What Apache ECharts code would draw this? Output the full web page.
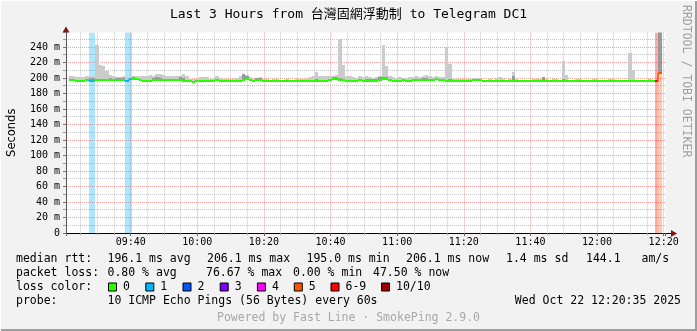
<!DOCTYPE html>
<html><head><meta charset="utf-8">
<script src="https://cdn.jsdelivr.net/npm/echarts@6/dist/echarts.min.js"></script>
<style>html,body{margin:0;padding:0;background:#f2f2f2}#c{width:697px;height:331px}</style>
</head><body><div id="c"></div><script>
// ---------- data ----------
const titleText = 'Last 3 Hours from 台灣固網浮動制 to Telegram DC1';
const windowStart = 20 + 35 / 60;   // 09:20:35 (minutes after 09:00)
const windowEnd = 200 + 35 / 60;    // 12:20:35
const firstSample = 21 + 23 / 60;   // 09:21:23, one sample per minute

// median RTT per sample (ms)
const median = [
  197.5,197,196.5,196.5,196.5,197,196.5,196.5,197.5,197.5,
  197.5,197.5,198,197.5,197.5,198,197.5,196,199,199,
  198.5,198,196.5,196,196,198,198,197.5,197.5,198,
  198,198,197.5,197.5,196.5,196,195.5,195,195.5,196.5,
  196.5,196,195.5,195.5,197.5,196.5,196,195.5,195.5,195.5,
  195.5,196,198,198.5,197,196.5,197,197.5,196.5,196,
  196,196,196,196,196,196,196,196,195.5,195.5,
  196,195.5,196,196,196,196.5,196,196.5,197,199,
  199.5,198,197.5,196.5,196.5,196,196.5,197,196.5,196.5,
  196,196.5,196.5,198,199,198.5,197,196.5,196,196.5,
  197,196,196.5,197.5,197.5,197,198,198,197.5,198,
  198.5,198,197,196.5,196.5,196,196,195.5,195.5,195.5,
  196,197,197.5,197,196,196,196,196,196,196,
  196,196,196,196,196,196,196,196,196,196,
  196,196,196,196,196,196,196,196,196,196,
  196,196,196,196,196,196,196,196,196,196,
  196,196,196,196,196,196,196,196,196,196,
  196,196,196,196,196,196,196,206.1
];
// lowest ping per sample (ms)
const smokeLo = [
  195.5,195.5,195,195,195,195.5,195,195,196,196,
  196,196,196.5,195.5,196,196.5,196,194.5,197.5,197.5,
  197,196.5,195,195,195,196.5,196.5,196,196,196.5,
  196.5,196.5,196,196,195,194.5,194.5,194,194.5,195.5,
  195.5,195,194.5,194.5,196,195.5,195,194.5,194.5,194.5,
  194.5,195,196.5,197,196,195.5,196,196.5,195.5,195,
  195,195,195,195,195,195,195,195,194.5,194.5,
  195,194.5,195,195,195,195.5,195,195.5,196,197.5,
  198,196.5,196.5,195.5,195.5,195,195.5,196,195.5,195.5,
  195,195.5,195.5,197,197.5,197,196,195.5,195,195.5,
  196,195,195.5,196.5,196.5,196,197,197,196.5,197,
  197.5,197,196,195.5,195.5,195,195,194.5,194.5,194.5,
  195,196,196.5,196,195,195,195,195,195,195,
  195,195,195,195,195,195,195,195,195,195,
  195,195,195,195,195,195,195,195,195,195,
  195,195,195,195,195,195,195,195,195,195,
  195,195,195,195,195,195,195,195,195,195,
  195,195,195,195,195,195,195,206.1
];
// top of the dense (dark) smoke per sample (ms)
const smokeMid = [
  199,199,198,197.5,197.5,198,200,200,198.5,199,
  199,198.5,200,198.5,199.5,199.5,199.5,197,200.5,201,
  200.5,199,197.5,197,197.5,199.5,201,200,198.5,199,
  199,199,198.5,201,199.5,198,196.5,196,196.5,197.5,
  197.5,197,196.5,196.5,198.5,197.5,197,196.5,196.5,196.5,
  196.5,197.5,205,202,198,197.5,199.5,200,197.5,197,
  197,197,197,197,197,197,197,197,196.5,196.5,
  197,196.5,197,197.5,198.5,198,197,198,198,201.5,
  201.5,200,198.5,197.5,197.5,197,197.5,198,197.5,199,
  199,199,199,201,201,201,198,197.5,197,197.5,
  198,197,197.5,198.5,199,198,200,200,198.5,199,
  199.5,199,198,198,199,197,197,196.5,196.5,196.5,
  197,198,198.5,198,197,197,197,197,197,197,
  197,197,197,203,197,197,197,197,197,197,
  197,197,201.5,197,197,197,197,198,199,197,
  197,197,197,197,197,197,197,197,197,197,
  197,197,197,197,197,197,197,197,198,197,
  197,197,197,197,197,197,197,260
];
// highest ping per sample (ms)
const smokeHi = [
  202,202,201,201.5,201,202,201,202,243,217,
  215.5,209.5,203.5,202,201.5,201,202,201,203,202.5,
  202,203,202,203,203.5,203,205.5,205.5,204,202,
  202.5,202,202,203,205.5,203,199,198.5,199,201,
  201.5,201,199,200,202,200,199,198.5,198.5,199,
  200,202,205,204.5,201,199,200,201,199,198.5,
  198,198.5,198.5,198,198,198.5,198,198,199,198.5,
  198.5,199,201,202,207.5,202.5,202.5,203,202,203,
  204,250,216.5,202,202.5,201,200.5,202,201,202,
  201,200.5,201.5,203,243,216,202,201.5,200.5,201,
  200,200.5,201,201.5,203,201.5,202,203.5,202,201.5,
  202,201,201,239.5,217.5,200,199,198.5,198.5,199,
  198.5,200,200.5,199.5,198,198,198.5,198,200,201,
  198.5,198,199,207.5,199,197.5,197.5,197.5,197.5,198.5,
  198.5,198.5,201.5,199,197.5,198.5,198.5,198,222,204,
  197.5,197.5,198.5,198.5,198,197.5,197.5,198.5,198.5,197.5,
  197.5,197.5,198.5,198.5,197.5,197.5,197.5,197.5,232,210,
  197.5,197.5,197.5,197.5,198.5,197.5,197.5,260
];
// lost pings (out of 10) per sample
const loss = [
  0,0,0,0,0,0,1,1,0,0,
  0,0,0,0,0,0,0,1,1,0,
  0,0,0,0,0,0,0,0,0,0,
  0,0,0,0,0,0,0,0,0,0,
  0,0,0,0,0,0,0,0,0,0,
  0,0,0,0,0,0,0,0,0,0,
  0,0,0,0,0,0,0,0,0,0,
  0,0,0,0,0,0,0,0,0,0,
  0,0,0,0,0,0,0,0,0,0,
  0,0,0,0,0,0,0,0,0,0,
  0,0,0,0,0,0,0,0,0,0,
  0,0,0,0,0,0,0,0,0,0,
  0,0,0,0,0,0,0,0,0,0,
  0,0,0,0,0,0,0,0,0,0,
  0,0,0,0,0,0,0,0,0,0,
  0,0,0,0,0,0,0,0,0,0,
  0,0,0,0,0,0,0,0,0,0,
  0,0,0,0,0,0,7.67,4.75
];
const lossLabels = ['0', '1', '2', '3', '4', '5', '6-9', '10/10'];
const lossColors = ['#26ff00', '#00b8ff', '#0059ff', '#7e00ff', '#ff00ff', '#ff5500', '#ff0000', '#a10000'];
const rttStats = ['196.1 ms avg', '206.1 ms max', '195.0 ms min', '206.1 ms now', '1.4 ms sd', '144.1', 'am/s'];
const lossStats = ['0.80 % avg', '76.67 % max', '0.00 % min', '47.50 % now'];
const probeText = '10 ICMP Echo Pings (56 Bytes) every 60s';
const dateText = 'Wed Oct 22 12:20:35 2025';
const poweredText = 'Powered by Fast Line · SmokePing 2.9.0';
const sideText = 'RRDTOOL / TOBI OETIKER';

// ---------- chart ----------
const MONO = "'DejaVu Sans Mono', 'Noto Sans CJK TC', monospace";
function lossClass(l) { const r = Math.round(l); if (r <= 0) return 0; if (r <= 5) return r; if (r < 10) return 6; return 7; }
function rgba(hex, a) { const n = parseInt(hex.slice(1), 16); return `rgba(${n >> 16},${(n >> 8) & 255},${n & 255},${a})`; }
function hhmm(v) { const tot = Math.round(v) + 9 * 60; const h = Math.floor(tot / 60), m = tot % 60; return String(h).padStart(2, '0') + ':' + String(m).padStart(2, '0'); }

const smokeData = median.map((m, i) => [firstSample + i, smokeLo[i], smokeMid[i], smokeHi[i]]);
const medianData = median.map((m, i) => [firstSample + i, m, i > 0 ? median[i - 1] : m, lossClass(loss[i])]);
const lossData = loss.map((l, i) => [firstSample + i, lossClass(l)]);

const chart = echarts.init(document.getElementById('c'), null, { renderer: 'canvas' });

const graphics = [];
const TY = [259.5, 273.5, 287.5, 301.5];
function txt(x, y, s, extra) {
  graphics.push(Object.assign({ type: 'text', x, y, style: Object.assign({ text: s, fontFamily: MONO, fontSize: 11.5, fill: '#000', verticalAlign: 'middle', align: 'left' }, extra || {}) }));
}
txt(16, TY[0], 'median rtt:');
const rttX = [107.5, 207, 306.5, 406, 506, 586, 641.5];
rttStats.forEach((s, i) => txt(rttX[i], TY[0], s));
txt(16, TY[1], 'packet loss:');
const lossX = [107.5, 206, 293, 373];
lossStats.forEach((s, i) => txt(lossX[i], TY[1], s));
txt(16, TY[2], 'loss color:');
const boxX = [108, 145.3, 182.5, 219.7, 256.9, 293.8, 330.5, 381];
lossLabels.forEach((s, i) => {
  graphics.push({ type: 'rect', shape: { x: boxX[i] + 0.5, y: TY[2] - 4.5, width: 8, height: 8 }, style: { fill: lossColors[i], stroke: '#000', lineWidth: 1 } });
  txt(boxX[i] + 15, TY[2], s);
});
txt(16, TY[3], 'probe:');
txt(107.5, TY[3], probeText);
txt(681, TY[3], dateText, { align: 'right' });
txt(348.5, 318.5, poweredText, { align: 'center', fill: '#a8a8a8' });
graphics.push({ type: 'text', x: 685.5, y: 5, rotation: -Math.PI / 2, style: { text: sideText, fontFamily: MONO, fontSize: 11.5, fill: '#a0a0a0', align: 'left', verticalAlign: 'middle' } });
// axis arrows and borders
graphics.push({ type: 'line', shape: { x1: 665, y1: 233.5, x2: 672, y2: 233.5 }, style: { stroke: '#000', lineWidth: 1 } });
graphics.push({ type: 'polygon', shape: { points: [[671, 230], [671, 237], [677, 233.5]] }, style: { fill: '#8a1010' } });
graphics.push({ type: 'polygon', shape: { points: [[62.5, 32.5], [69.5, 32.5], [66, 26.5]] }, style: { fill: '#8a1010' } });
graphics.push({ type: 'rect', shape: { x: 695, y: 0, width: 2, height: 331 }, style: { fill: '#9e9e9e' } });
graphics.push({ type: 'rect', shape: { x: 0, y: 329, width: 697, height: 2 }, style: { fill: '#9e9e9e' } });
graphics.push({ type: 'rect', shape: { x: 0, y: 0, width: 697, height: 1 }, style: { fill: '#ffffff' } });
graphics.push({ type: 'rect', shape: { x: 0, y: 0, width: 1, height: 331 }, style: { fill: '#ffffff' } });

const option = {
  animation: false,
  backgroundColor: '#f2f2f2',
  title: { text: titleText, left: 'center', top: 3, textStyle: { fontFamily: MONO, fontSize: 13, fontWeight: 'normal', color: '#000' } },
  grid: { left: 66, right: 31.4, top: 32.5, bottom: 98, show: true, backgroundColor: '#ffffff', borderWidth: 0,
          containLabel: false, outerBoundsMode: 'none' },
  xAxis: {
    type: 'value', min: windowStart, max: windowEnd, splitNumber: 9,
    axisLine: { show: true, onZero: false, lineStyle: { color: '#000', width: 1 } },
    axisTick: { show: true, length: 3, lineStyle: { color: '#666' } },
    minorTick: { show: true, splitNumber: 4, length: 2, lineStyle: { color: '#999' } },
    axisLabel: { fontFamily: MONO, fontSize: 10, color: '#000', margin: 4.5, showMinLabel: false, showMaxLabel: false,
      formatter: v => (Math.abs(v - Math.round(v / 20) * 20) < 1e-6 ? hhmm(v) : '') },
    splitLine: { show: true, showMinLine: false, showMaxLine: false, lineStyle: { color: 'rgba(235,100,100,0.6)', type: [1, 1], width: 1 } },
    minorSplitLine: { show: true, lineStyle: { color: 'rgba(150,150,150,0.55)', type: [1, 1], width: 1 } }
  },
  yAxis: {
    type: 'value', min: 0, max: 258.7, interval: 20,
    name: 'Seconds', nameLocation: 'middle', nameGap: 48,
    nameTextStyle: { fontFamily: "'DejaVu Sans', sans-serif", fontSize: 11.5, color: '#000' },
    axisLine: { show: true, lineStyle: { color: '#555', width: 1 } },
    axisTick: { show: true, length: 3, lineStyle: { color: '#777' } },
    minorTick: { show: true, splitNumber: 2, length: 3, lineStyle: { color: '#999' } },
    axisLabel: { fontFamily: MONO, fontSize: 10, color: '#000', margin: 6, showMaxLabel: false,
      formatter: v => (v === 0 ? '0' : v + ' m') },
    splitLine: { show: true, showMinLine: false, showMaxLine: false, lineStyle: { color: 'rgba(235,100,100,0.6)', type: [1, 1], width: 1 } },
    minorSplitLine: { show: true, lineStyle: { color: 'rgba(150,150,150,0.55)', type: [1, 1], width: 1 } }
  },
  series: [
    { type: 'custom', name: 'loss', data: lossData, clip: true, z: 1, encode: { x: 0, y: 1 },
      renderItem(params, api) {
        const t = api.value(0), c = api.value(1);
        if (!c) return null;
        const a = api.coord([t, 0]), b = api.coord([t + 1, 0]);
        const cs = params.coordSys;
        const x0 = Math.round(a[0]), x1 = Math.round(b[0]);
        return { type: 'rect', shape: { x: x0, y: cs.y, width: x1 - x0, height: cs.height }, style: { fill: rgba(lossColors[c], 0.33) } };
      } },
    { type: 'custom', name: 'smoke', data: smokeData, clip: true, z: 2, encode: { x: 0, y: [1, 2, 3] },
      renderItem(params, api) {
        const t = api.value(0), lo = api.value(1), mid = api.value(2), hi = api.value(3);
        const a = api.coord([t, lo]), b = api.coord([t + 1, mid]), c = api.coord([t + 1, hi]);
        const x0 = Math.round(a[0]), x1 = Math.round(b[0]);
        const yLo = Math.round(a[1]), yMid = Math.round(b[1]), yHi = Math.round(c[1]);
        return { type: 'group', children: [
          { type: 'rect', shape: { x: x0, y: yHi, width: x1 - x0, height: yMid - yHi }, style: { fill: '#cbcbcb' } },
          { type: 'rect', shape: { x: x0, y: yMid, width: x1 - x0, height: yLo - yMid }, style: { fill: '#999999' } }
        ] };
      } },
    { type: 'custom', name: 'median', data: medianData, clip: true, z: 3, encode: { x: 0, y: 1 },
      renderItem(params, api) {
        const t = api.value(0), m = api.value(1), pm = api.value(2), c = api.value(3);
        const p0 = api.coord([t, m]), p1 = api.coord([t + 1, m]), pp = api.coord([t, pm]);
        const y = Math.round(p0[1]), yp = Math.round(pp[1]);
        const x0 = Math.round(p0[0]), x1 = Math.round(p1[0]);
        const col = lossColors[c];
        const ch = [{ type: 'line', shape: { x1: x0, y1: y, x2: x1, y2: y }, style: { stroke: col, lineWidth: 2 } }];
        if (yp !== y) ch.push({ type: 'line', shape: { x1: x0, y1: yp, x2: x0, y2: y }, style: { stroke: col, lineWidth: 1.5 } });
        return { type: 'group', children: ch };
      } }
  ],
  graphic: graphics
};
chart.setOption(option);
</script></body></html>
